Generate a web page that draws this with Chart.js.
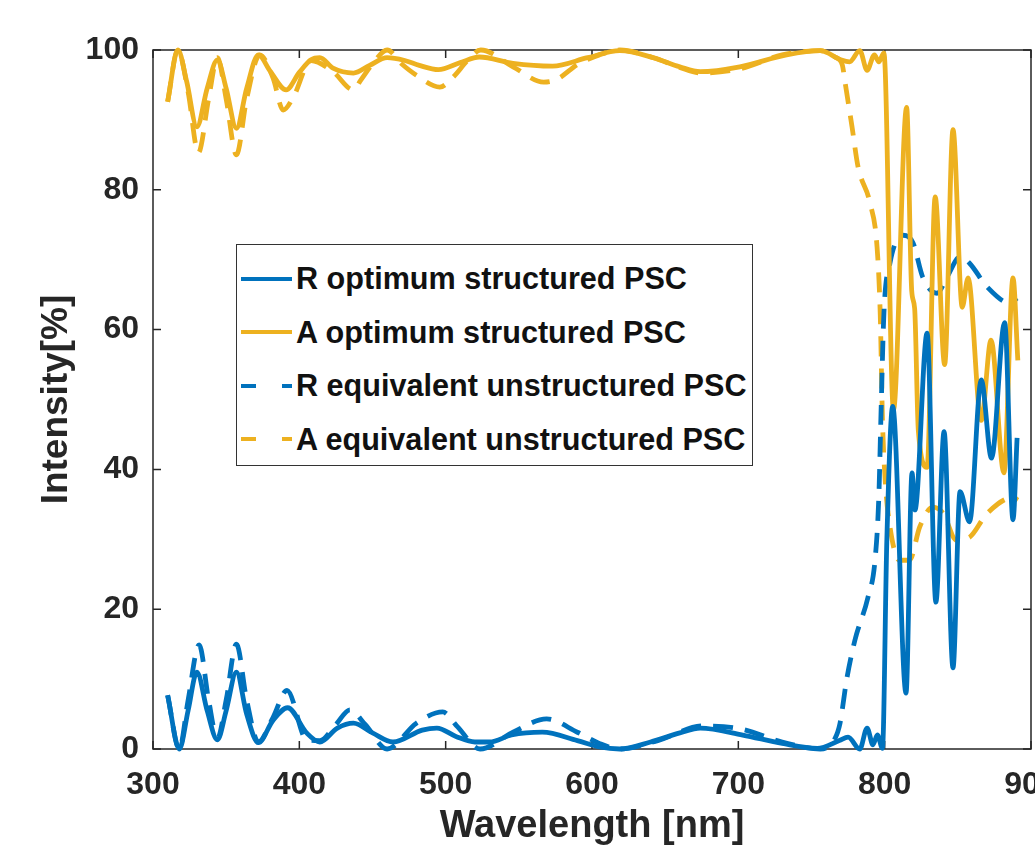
<!DOCTYPE html>
<html>
<head>
<meta charset="utf-8">
<script src="https://cdn.jsdelivr.net/npm/chart.js@4"></script>
<style>
  html, body { margin: 0; padding: 0; background: #fff; overflow: hidden; }
  #wrap { position: absolute; left: 0; top: 0; width: 1035px; height: 853px; }
  #legend {
    position: absolute; left: 236px; top: 244px; width: 515px; height: 220px;
    border: 1px solid #333; background: #fff; box-sizing: content-box;
    padding-top: 0; font-family: "Liberation Sans", Arial, sans-serif;
    font-weight: bold; font-size: 30.6px; color: #111;
  }
  #legend .row { display: flex; align-items: center; height: 53.5px; white-space: nowrap; }
  #legend .row:first-child { margin-top: 7px; }
  #legend svg { margin-left: 4px; margin-right: 4px; flex: none; }
</style>
</head>
<body>
<div id="wrap">
  <canvas id="chart"></canvas>
  <div id="legend"></div>
</div>
<script>
/* =========================
   DATA
========================= */
const xTicks = [300, 400, 500, 600, 700, 800, 900];
const yTicks = [0, 20, 40, 60, 80, 100];

const labels = [
  "R optimum structured PSC",
  "A optimum structured PSC",
  "R equivalent unstructured PSC",
  "A equivalent unstructured PSC"
];

// R optimum structured (solid blue)
const rOptX = [310, 318, 324, 330, 337, 344, 350, 357, 364, 372, 382, 392, 405, 414, 426, 437, 450, 464, 484, 494,
  507, 520, 530, 545, 566, 590, 605, 619, 640, 660, 674, 703, 730, 754, 769, 775, 783, 788, 792, 795,
  798.5, 801.5, 805.5, 814.6, 818.7, 820.7, 829, 835, 840.6, 846.7, 851.5, 858, 866, 873, 882, 887.7, 890.5];
const rOptY = [7.7, 0, 5.5, 11, 5.5, 1.3, 5.5, 11, 5, 0.9, 4.1, 5.9, 2.3, 1.0, 3, 3.7, 2.3, 1.0, 2.7, 3,
  1.8, 1.0, 1.0, 2.0, 2.4, 1.2, 0.3, 0, 1, 2.3, 3, 2, 0.8, 0.1, 1.2, 1.7, 0, 3, 0.6, 2,
  0.1, 30, 49, 8, 39.5, 34.2, 59.5, 21, 45.4, 11.6, 36.8, 32.5, 52.8, 41.6, 61, 32.8, 44.5];

// A optimum structured (solid orange)
const aOptX = [310, 317, 323, 330, 337, 344, 350, 357, 364, 372, 380, 391, 400, 408, 414, 423, 437, 448, 460, 472,
  482, 495, 510, 523, 546, 573, 597, 619, 642, 660, 674, 701, 733, 756, 770, 776, 783, 788, 793, 796,
  799.5, 806, 815, 818.5, 820.5, 823, 829, 834.5, 841, 846.7, 853, 857, 866, 872.7, 881.5, 887.7, 891];
const aOptY = [92.6, 100, 95.5, 89, 94.5, 98.6, 94.5, 88.8, 94.5, 99.3, 97, 94.3, 96.8, 98.6, 98.9, 97.4, 96.7, 97.8, 98.9, 98.5,
  97.8, 97.2, 98.2, 99, 98.1, 97.7, 98.9, 99.9, 98.9, 97.6, 96.9, 97.6, 99.3, 99.9, 98.6, 98.3, 99.9, 97.1, 99.3, 98.3,
  99.6, 48.5, 91.8, 65.5, 63, 45.6, 40.3, 79, 55, 88.6, 63.2, 67.4, 47, 58.5, 39.5, 67.4, 55.6];

// R equivalent unstructured (dashed blue)
const rEqX = [310, 318, 324, 331.5, 338, 344, 350, 357, 364, 372, 382, 391.6, 405, 414, 425, 434.6, 445, 460, 480, 498,
  508, 523.5, 546, 569, 590, 605, 619, 645, 676, 701, 730, 756, 766, 769.5, 774, 779.7, 788.6, 793.4, 796, 797.5,
  799.5, 803.6, 812.5, 819.4, 826, 835.8, 842.6, 851.5, 858, 870, 885.7, 890.5];
const rEqY = [7.7, 0, 7, 14.9, 7, 1.5, 7, 15, 7, 1, 4.5, 8.4, 1.3, 1.2, 3.5, 5.6, 3.5, 0, 3.7, 5.3,
  3.2, 0, 2.4, 4.3, 2.4, 0.8, 0, 1.2, 3.3, 2.9, 1, 0, 1.5, 3.7, 9.9, 15.6, 21.7, 27, 36, 48,
  62.4, 69.5, 73.5, 72.4, 67.5, 65.2, 67.5, 70.4, 69.5, 66.1, 63.8, 64.5];

// A equivalent unstructured (dashed orange)
const aEqX = [310, 317, 324, 331, 338, 344, 350, 357, 364, 373, 382, 389, 396, 408, 423, 437, 442, 450, 460, 470,
  480, 496, 505, 515, 524, 546, 567, 576, 590, 605, 619, 642, 660, 674, 701, 730, 756, 766, 771, 773,
  777.7, 781.8, 790, 794.8, 797, 798.5, 800.5, 803.6, 810, 817, 824, 833, 840, 849, 858, 870, 888, 891];
const aEqY = [92.6, 100, 94, 85.3, 93, 98.9, 93, 85, 93, 99.3, 96, 91.4, 93.3, 98.5, 96.9, 94.3, 95.7, 98, 100, 98,
  96.4, 94.7, 96.1, 98.5, 100, 97.6, 95.4, 95.8, 97.9, 99.3, 100, 98.9, 97.5, 96.7, 97.3, 99.3, 99.9, 99, 97.9, 95.3,
  89, 83.3, 78.1, 71.8, 62, 47, 38, 31.8, 27, 27, 31.8, 34.6, 33.7, 29.9, 30.3, 33.7, 36, 35.6];

/* =========================
   STYLE
========================= */
const BLUE = "#0072BD";
const ORANGE = "#EDB120";
const DASH = [20, 12];
const FONT = "'Liberation Sans', Arial, sans-serif";

function toPoints(xs, ys) {
  return xs.map((x, i) => ({ x: x, y: ys[i] }));
}

function makeSet(label, xs, ys, color, dashed) {
  return {
    label: label,
    data: toPoints(xs, ys),
    borderColor: color,
    backgroundColor: color,
    borderWidth: 4.8,
    borderDash: dashed ? DASH : [],
    pointRadius: 0,
    fill: false,
    cubicInterpolationMode: "monotone",
    clip: false
  };
}

/* =========================
   AXES BOX + INWARD TICKS
========================= */
const boxPlugin = {
  id: "axesBox",
  beforeDatasetsDraw(chart) {
    const { ctx, chartArea: a, scales } = chart;
    const tl = 8;
    ctx.save();
    ctx.strokeStyle = "#262626";
    ctx.lineWidth = 1.5;
    ctx.strokeRect(a.left, a.top, a.right - a.left, a.bottom - a.top);
    ctx.beginPath();
    xTicks.forEach(v => {
      const px = scales.x.getPixelForValue(v);
      ctx.moveTo(px, a.bottom); ctx.lineTo(px, a.bottom - tl);
      ctx.moveTo(px, a.top); ctx.lineTo(px, a.top + tl);
    });
    yTicks.forEach(v => {
      const py = scales.y.getPixelForValue(v);
      ctx.moveTo(a.left, py); ctx.lineTo(a.left + tl, py);
      ctx.moveTo(a.right, py); ctx.lineTo(a.right - tl, py);
    });
    ctx.stroke();
    ctx.restore();
  }
};

/* =========================
   CHART
========================= */
const chart = new Chart(document.getElementById("chart"), {
  type: "line",
  data: {
    datasets: [
      makeSet(labels[0], rOptX, rOptY, BLUE, false),
      makeSet(labels[1], aOptX, aOptY, ORANGE, false),
      makeSet(labels[2], rEqX, rEqY, BLUE, true),
      makeSet(labels[3], aEqX, aEqY, ORANGE, true)
    ]
  },
  options: {
    responsive: true,
    maintainAspectRatio: false,
    animation: false,
    layout: { padding: { top: 50, right: 4, bottom: 0, left: 0 } },
    plugins: {
      legend: { display: false },
      tooltip: { enabled: false }
    },
    scales: {
      x: {
        type: "linear",
        min: 300,
        max: 900,
        grid: { display: false, drawTicks: false },
        border: { display: false },
        afterBuildTicks: s => { s.ticks = xTicks.map(v => ({ value: v })); },
        afterFit: s => { s.height = 104; s.paddingLeft = 0; s.paddingRight = 0; },
        ticks: {
          color: "#262626",
          padding: 17,
          maxRotation: 0,
          font: { family: FONT, size: 32, weight: "bold" }
        },
        title: {
          display: true,
          text: "Wavelength [nm]",
          color: "#262626",
          padding: { top: 0, bottom: 4 },
          font: { family: FONT, size: 38, weight: "bold" }
        }
      },
      y: {
        min: 0,
        max: 100,
        grid: { display: false, drawTicks: false },
        border: { display: false },
        afterBuildTicks: s => { s.ticks = yTicks.map(v => ({ value: v })); },
        afterFit: s => { s.width = 153; s.paddingTop = 0; s.paddingBottom = 0; },
        ticks: {
          color: "#262626",
          padding: 14,
          font: { family: FONT, size: 32, weight: "bold" }
        },
        title: {
          display: true,
          text: "Intensity[%]",
          color: "#262626",
          padding: { top: 35, bottom: 0 },
          font: { family: FONT, size: 37, weight: "bold" }
        }
      }
    }
  },
  plugins: [boxPlugin]
});

/* =========================
   LEGEND (inside the axes)
========================= */
function buildLegend(chart) {
  const box = document.getElementById("legend");
  box.innerHTML = "";
  const ns = "http://www.w3.org/2000/svg";

  chart.data.datasets.forEach(ds => {
    const row = document.createElement("div");
    row.className = "row";

    const svg = document.createElementNS(ns, "svg");
    svg.setAttribute("width", "51");
    svg.setAttribute("height", "10");
    const line = document.createElementNS(ns, "line");
    line.setAttribute("x1", "0");
    line.setAttribute("y1", "5");
    line.setAttribute("x2", "51");
    line.setAttribute("y2", "5");
    line.setAttribute("stroke", ds.borderColor);
    line.setAttribute("stroke-width", "4");
    if (ds.borderDash.length) line.setAttribute("stroke-dasharray", "15 26");
    svg.appendChild(line);

    const text = document.createElement("span");
    text.textContent = ds.label;

    row.appendChild(svg);
    row.appendChild(text);
    box.appendChild(row);
  });
}

buildLegend(chart);
</script>
</body>
</html>
